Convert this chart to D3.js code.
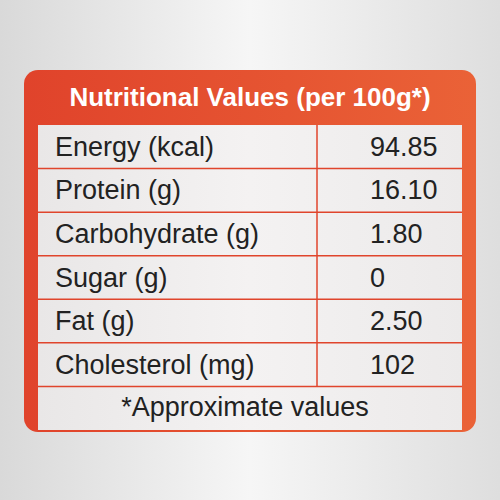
<!DOCTYPE html>
<html><head><meta charset="utf-8">
<script src="https://cdn.jsdelivr.net/npm/d3@7"></script>
<style>body{margin:0;background:#fff}</style>
</head><body>
<svg id="chart" width="500" height="500"></svg>
<script>
var title = "Nutritional Values (per 100g*)";
var nutrients = ["Energy (kcal)", "Protein (g)", "Carbohydrate (g)", "Sugar (g)", "Fat (g)", "Cholesterol (mg)"];
var amounts = ["94.85", "16.10", "1.80", "0", "2.50", "102"];
var footnote = "*Approximate values";

var svg = d3.select("#chart");
var red = "#e0452c";
var font = "Liberation Sans, Arial, sans-serif";

/* Background ----------------------------------------------------------------- */
var defs = svg.append("defs");
var bg = defs.append("linearGradient").attr("id", "bg").attr("x1", 0).attr("x2", 1);
bg.append("stop").attr("offset", 0).attr("stop-color", "#d9d9d9");
bg.append("stop").attr("offset", 0.5).attr("stop-color", "#f6f6f6");
bg.append("stop").attr("offset", 1).attr("stop-color", "#dedede");
svg.append("rect").attr("width", 500).attr("height", 500).attr("fill", "url(#bg)");

var hd = defs.append("linearGradient").attr("id", "hd").attr("x1", 0).attr("x2", 1);
hd.append("stop").attr("offset", 0).attr("stop-color", "#e0432b");
hd.append("stop").attr("offset", 1).attr("stop-color", "#ea6237");

var tb = defs.append("linearGradient").attr("id", "tb").attr("x1", 0).attr("x2", 1);
tb.append("stop").attr("offset", 0).attr("stop-color", "#e9e7e7");
tb.append("stop").attr("offset", 0.5).attr("stop-color", "#f4f2f2");
tb.append("stop").attr("offset", 1).attr("stop-color", "#eceaea");

/* Frame ---------------------------------------------------------------------- */
svg.append("rect")
    .attr("x", 24).attr("y", 70).attr("width", 452).attr("height", 362)
    .attr("rx", 14).attr("fill", "url(#hd)");

var y = d3.scaleBand().domain(d3.range(nutrients.length + 1)).range([125, 430]);
var x0 = 38, x1 = 462, xDiv = 317;

svg.append("rect")
    .attr("x", x0).attr("y", 125).attr("width", x1 - x0).attr("height", 305)
    .attr("fill", "url(#tb)");

svg.append("text")
    .attr("x", 250).attr("y", 106)
    .attr("text-anchor", "middle")
    .attr("font-family", font)
    .attr("font-weight", "bold").attr("font-size", 26)
    .attr("fill", "#fff")
    .text(title);

/* Rows ----------------------------------------------------------------------- */
var rows = svg.selectAll("g.row").data(nutrients).join("g").attr("class", "row");

rows.append("text")
    .attr("x", 55).attr("y", function(d, i) { return y(i) + y.bandwidth() / 2 + 9; })
    .attr("font-family", font)
    .attr("font-size", 27).attr("fill", "#222")
    .text(function(d) { return d; });

rows.append("text")
    .attr("x", 370).attr("y", function(d, i) { return y(i) + y.bandwidth() / 2 + 9; })
    .attr("font-family", font)
    .attr("font-size", 27).attr("fill", "#222")
    .text(function(d, i) { return amounts[i]; });

svg.append("text")
    .attr("x", 245).attr("y", y(nutrients.length) + y.bandwidth() / 2 + 8)
    .attr("text-anchor", "middle")
    .attr("font-family", font)
    .attr("font-size", 27).attr("fill", "#222")
    .text(footnote);

/* Grid ----------------------------------------------------------------------- */
svg.selectAll("line.h").data(d3.range(1, nutrients.length + 1)).join("line")
    .attr("class", "h")
    .attr("x1", x0).attr("x2", x1)
    .attr("y1", function(d) { return y(d); }).attr("y2", function(d) { return y(d); })
    .attr("stroke", red).attr("stroke-width", 1.5);

svg.append("line")
    .attr("x1", xDiv).attr("x2", xDiv).attr("y1", 125).attr("y2", y(nutrients.length))
    .attr("stroke", red).attr("stroke-width", 1.5);
</script>
</body></html>
